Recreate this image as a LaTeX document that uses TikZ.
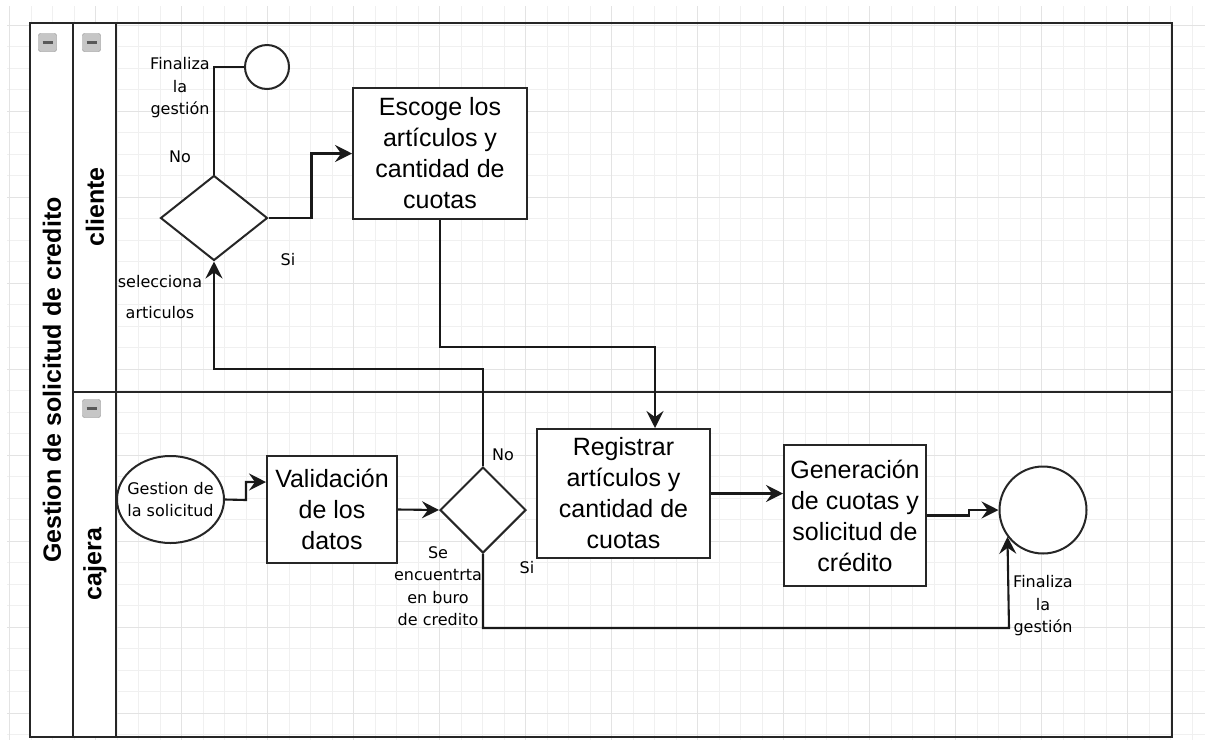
\documentclass[tikz,border=0pt]{standalone}
\usepackage{fontspec}
\setmainfont{Liberation Sans}
\newfontfamily\lblfont{DejaVu Sans}
\usetikzlibrary{shapes.geometric,arrows.meta,calc}
\begin{document}
\begin{tikzpicture}[x=1pt,y=-1pt,
 box/.style={draw=black!85, line width=2pt, fill=white, inner sep=0pt, align=center, font=\fontsize{25}{31}\selectfont},
 gate/.style={diamond, draw=black!85, line width=2pt, fill=white, inner sep=0pt},
 evt/.style={circle, draw=black!85, line width=2pt, fill=white, inner sep=0pt},
 lbl/.style={align=center, inner sep=0pt, font=\lblfont\fontsize{16}{22.5}\selectfont},
 con/.style={draw=black!90, line width=2.1pt},
 arr/.style={con, -{Stealth[length=17pt,width=17pt,inset=6pt]}},
 lanebar/.style={draw=black!85, line width=2.5pt},
 lanetitle/.style={font=\bfseries\fontsize{25}{30}\selectfont, rotate=90, inner sep=0pt},
 mini/.style={draw=gray!90, fill=gray!45, rounded corners=2pt, minimum size=18pt, inner sep=0pt,
   path picture={\draw[line width=2.6pt, black!65] ($(path picture bounding box.west)+(4,0)$) -- ($(path picture bounding box.east)+(-4,0)$);}},
 gridminor/.style={draw=black!6, line width=0.8pt},
 gridmajor/.style={draw=black!11, line width=0.9pt}
]
\useasboundingbox (0,0) rectangle (1205,740);
\fill[white] (0,0) rectangle (1205,740);
% background grid
\begin{scope}
\clip (7,6) rectangle (1205,740);
\foreach \k in {0,...,55} \draw[gridminor] ({9.7+21.5*\k},6) -- ({9.7+21.5*\k},740);
\foreach \k in {1,...,34} \draw[gridminor] (7,{3.8+21.5*\k}) -- (1205,{3.8+21.5*\k});
\foreach \k in {0,...,13} \draw[gridmajor] ({9.7+86*\k},6) -- ({9.7+86*\k},740);
\foreach \k in {0,...,8} \draw[gridmajor] (7,{25.3+86*\k}) -- (1205,{25.3+86*\k});
\end{scope}
% pool and lanes
\fill[white] (30,23) rectangle (116,737);
\draw[lanebar] (30,23) rectangle (1172,737);
\draw[lanebar] (73,23) -- (73,737);
\draw[lanebar] (116,23) -- (116,737);
\draw[lanebar] (73,392) -- (1172,392);
\node[lanetitle] (tpool) at (52,380) {Gestion de solicitud de credito};
\node[lanetitle] (tcli) at (95,207) {cliente};
\node[lanetitle] (tcaj) at (95,564) {cajera};
\node[mini] (m1) at (47.5,42.5) {};
\node[mini] (m2) at (91.5,42.5) {};
\node[mini] (m3) at (91.5,408.5) {};
% nodes
\node[evt, minimum size=44pt] (endtop) at (267,67) {};
\node[gate, minimum width=107pt, minimum height=85pt] (d1) at (214,218) {};
\node[box, minimum width=174pt, minimum height=131pt] (escoge) at (440,153.5) {Escoge los\\artículos y\\cantidad de\\cuotas};
\node[box, minimum width=173pt, minimum height=129pt] (reg) at (623.5,493.5) {Registrar\\artículos y\\cantidad de\\cuotas};
\node[gate, minimum width=86pt, minimum height=86pt] (d2) at (483,510) {};
\node[box, minimum width=130pt, minimum height=107pt] (valid) at (332,509.5) {Validación\\de los\\datos};
\node[box, minimum width=142pt, minimum height=141pt] (gen) at (855,515.5) {Generación\\de cuotas y\\solicitud de\\crédito};
\node[evt, minimum size=87pt] (endbot) at (1043,510) {};
\node[ellipse, draw=black!85, line width=2pt, fill=white, inner sep=0pt, minimum width=107pt, minimum height=87pt,
  label={[lbl]center:{Gestion de\\la solicitud}}] (gest) at (170.5,499.5) {};
% labels
\node[lbl] (lfin1) at (180,88) {Finaliza\\la\\gestión};
\node[lbl] (lno1) at (180,157) {No};
\node[lbl] (lsi1) at (288,260) {Si};
\node[lbl, font=\lblfont\fontsize{16}{31}\selectfont] (lsel) at (160,297) {selecciona\\articulos};
\node[lbl] (lno2) at (503,455) {No};
\node[lbl] (lsi2) at (527,568) {Si};
\node[lbl] (lse) at (438,586) {Se\\encuentrta\\en buro\\de credito};
\node[lbl] (lfin2) at (1043,606) {Finaliza\\la\\gestión};
% connectors
\coordinate (k2) at (655,347);
\coordinate (k3) at (214,369);
\coordinate (k4) at (1009,628);
\coordinate (k5) at (246,500);
\draw[con] (d1.north) |- (endtop.west);
\draw[arr] (d1.east) -- ++(43,0) |- (escoge.west);
\draw[arr] (escoge.south) |- (k2) -- (k2 |- reg.north);
\draw[arr] (d2.north) |- (k3) -- (d1.south);
\draw[arr] (d2.south) |- (k4) -- (endbot.217.7);
\draw[arr] (valid.east) -- (d2.west);
\draw[arr] (gest.east) -- (k5) |- ($(valid.north west)+(0,27)$);
\draw[arr] (reg.east) -- (reg.east -| gen.west);
\draw[arr] (gen.east) -- ++(42,0) |- (endbot.west);
\end{tikzpicture}
\end{document}
